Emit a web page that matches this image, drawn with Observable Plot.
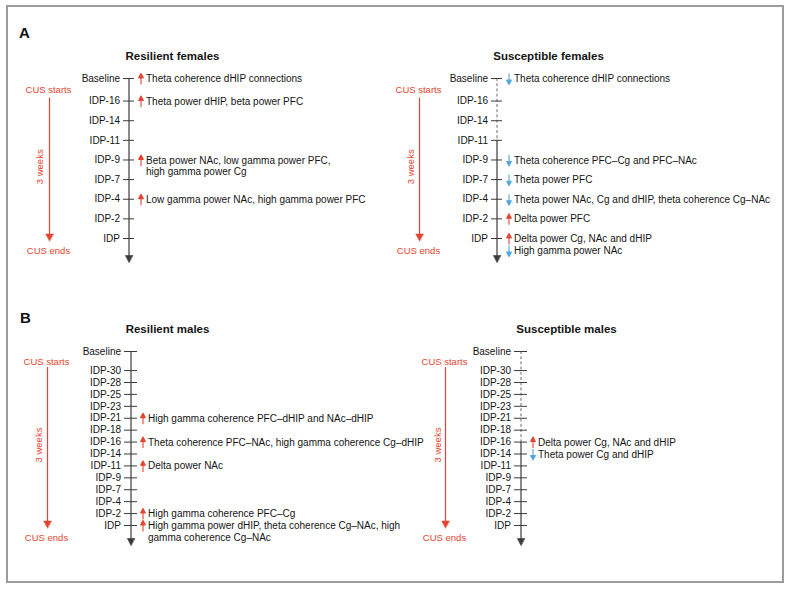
<!DOCTYPE html>
<html>
<head>
<meta charset="utf-8">
<script src="https://cdn.jsdelivr.net/npm/d3@7"></script>
<script src="https://cdn.jsdelivr.net/npm/@observablehq/plot@0.6"></script>
<style>
  html, body { margin: 0; padding: 0; background: #fff; }
  #fig { position: relative; width: 791px; height: 589px; overflow: hidden; font-family: "Liberation Sans", Arial, sans-serif; }
  #frame { position: absolute; left: 6px; top: 5px; width: 774px; height: 574px; border: 2px solid #9b9b9b; }
  .plabel { position: absolute; font-weight: bold; font-size: 15px; line-height: 15px; color: #111; }
  #fig svg { position: absolute; overflow: visible; }
</style>
</head>
<body>
<div id="fig">
  <div id="frame"></div>
  <div class="plabel" style="left:19px;top:25px">A</div>
  <div class="plabel" style="left:20px;top:310px">B</div>
</div>
<script>
// ---------------- data ----------------
const femaleTicks = ["Baseline", "IDP-16", "IDP-14", "IDP-11", "IDP-9", "IDP-7", "IDP-4", "IDP-2", "IDP"];
const maleTicks = ["Baseline", "IDP-30", "IDP-28", "IDP-25", "IDP-23", "IDP-21", "IDP-18", "IDP-16", "IDP-14", "IDP-11", "IDP-9", "IDP-7", "IDP-4", "IDP-2", "IDP"];

const panelTitles = ["Resilient females", "Susceptible females", "Resilient males", "Susceptible males"];

const resilientFemaleEvents = [
  {tick: "Baseline", dir: "up", text: "Theta coherence dHIP connections"},
  {tick: "IDP-16", dir: "up", text: "Theta power dHIP, beta power PFC"},
  {tick: "IDP-9", dir: "up", text: "Beta power NAc, low gamma power PFC,\nhigh gamma power Cg"},
  {tick: "IDP-4", dir: "up", text: "Low gamma power NAc, high gamma power PFC"}
];
const susceptibleFemaleEvents = [
  {tick: "Baseline", dir: "down", text: "Theta coherence dHIP connections"},
  {tick: "IDP-9", dir: "down", text: "Theta coherence PFC–Cg and PFC–NAc"},
  {tick: "IDP-7", dir: "down", text: "Theta power PFC"},
  {tick: "IDP-4", dir: "down", text: "Theta power NAc, Cg and dHIP, theta coherence Cg–NAc"},
  {tick: "IDP-2", dir: "up", text: "Delta power PFC"},
  {tick: "IDP", dir: "up", text: "Delta power Cg, NAc and dHIP"},
  {tick: "IDP", dir: "down", text: "High gamma power NAc"}
];
const resilientMaleEvents = [
  {tick: "IDP-21", dir: "up", text: "High gamma coherence PFC–dHIP and NAc–dHIP"},
  {tick: "IDP-16", dir: "up", text: "Theta coherence PFC–NAc, high gamma coherence Cg–dHIP"},
  {tick: "IDP-11", dir: "up", text: "Delta power NAc"},
  {tick: "IDP-2", dir: "up", text: "High gamma coherence PFC–Cg"},
  {tick: "IDP", dir: "up", text: "High gamma power dHIP, theta coherence Cg–NAc, high\ngamma coherence Cg–NAc"}
];
const susceptibleMaleEvents = [
  {tick: "IDP-16", dir: "up", text: "Delta power Cg, NAc and dHIP"},
  {tick: "IDP-14", dir: "down", text: "Theta power Cg and dHIP"}
];

// dashed (uncertain) stretch of the susceptible timelines ends at this tick
const susceptibleFemaleDashUntil = "IDP-11";
const susceptibleMaleDashUntil = "IDP-16";

const cusLabels = ["CUS starts", "CUS ends", "3 weeks"];

// ---------------- styles ----------------
const RED = "#e4442f";
const BLUE = "#4fa6df";
const DARK = "#3b3b3b";
const DASH = "#6a6a6a";
const INK = "#141414";

const eventArrow = {
  draw(ctx, l, r) {
    const hl = r * 1.9;
    ctx.moveTo(0, 0);
    ctx.lineTo(0, -l + hl);
    ctx.moveTo(0, -l);
    ctx.lineTo(r, -l + hl);
    ctx.lineTo(-r, -l + hl);
    ctx.closePath();
  }
};
const headOnly = {
  draw(ctx, l, r) {
    ctx.moveTo(0, -l);
    ctx.lineTo(r, 0);
    ctx.lineTo(-r, 0);
    ctx.closePath();
  }
};

function panel(cfg) {
  const {title, ticks, events, dashUntil, left, width, top, height,
         axisX, cusX, weeksX, titleX, yFirst, yLast, gap, tickHalf, tail} = cfg;
  const slotMap = new Map(ticks.map((t, i) => [t, i === 0 ? 0 : i + gap]));
  const slot = (t) => slotMap.get(t);
  const first = ticks[0], second = ticks[1], last = ticks[ticks.length - 1];

  // line index of each event within its tick (stacked events)
  const seen = new Map();
  const ev = events.map((e) => {
    const k = seen.get(e.tick) || 0;
    seen.set(e.tick, k + 1);
    return {...e, line: k};
  });
  const lines = [...new Set(ev.map((e) => e.line))];
  const LH = 12;

  const marks = [];
  // timeline
  if (dashUntil) {
    marks.push(Plot.ruleX([{a: first, b: dashUntil}], {x: axisX, y1: (d) => slot(d.a), y2: (d) => slot(d.b), stroke: DASH, strokeWidth: 1, strokeDasharray: "3,2.2"}));
    marks.push(Plot.ruleX([{a: dashUntil, b: last}], {x: axisX, y1: (d) => slot(d.a), y2: (d) => slot(d.b), stroke: DARK, strokeWidth: 1.2, insetBottom: -(tail - 6)}));
  } else {
    marks.push(Plot.ruleX([{a: first, b: last}], {x: axisX, y1: (d) => slot(d.a), y2: (d) => slot(d.b), stroke: DARK, strokeWidth: 1.2, insetBottom: -(tail - 6)}));
  }
  marks.push(Plot.vector([last], {x: axisX, y: slot, dy: tail, rotate: 180, anchor: "end", length: 7, r: 3.6, shape: headOnly, stroke: DARK, fill: DARK, strokeWidth: 0.6}));
  // ticks & labels
  marks.push(Plot.ruleY(ticks, {y: slot, x1: axisX - tickHalf, x2: axisX + tickHalf, stroke: DARK, strokeWidth: 1}));
  marks.push(Plot.text(ticks, {x: axisX, y: slot, text: (d) => d, textAnchor: "end", dx: -(tickHalf + 3.5), fill: INK, fontSize: 10}));
  // CUS annotation
  marks.push(Plot.text([cusLabels[0]], {x: cusX, y: () => (slot(first) + slot(second)) / 2, text: (d) => d, fill: RED, fontSize: 9.5, dy: 0.5}));
  marks.push(Plot.ruleX([{a: second, b: last}], {x: cusX + 1, y1: (d) => slot(d.a), y2: (d) => slot(d.b), stroke: RED, strokeWidth: 1.2, insetTop: -3, insetBottom: 4}));
  marks.push(Plot.vector([last], {x: cusX + 1, y: slot, dy: 2.5, rotate: 180, anchor: "end", length: 7, r: 3.8, shape: headOnly, stroke: RED, fill: RED, strokeWidth: 0.5}));
  marks.push(Plot.text([cusLabels[2]], {x: weeksX, y: () => (slot(second) + slot(last)) / 2, text: (d) => d, rotate: -90, fill: RED, fontSize: 9.5, dy: -3}));
  marks.push(Plot.text([cusLabels[1]], {x: cusX, y: () => slot(last), text: (d) => d, fill: RED, fontSize: 9.5, dy: 12}));
  // title
  marks.push(Plot.text([title], {x: titleX, y: () => slot(first), text: (d) => d, fontWeight: "bold", fontSize: 11.5, fill: INK, dy: -22}));
  // events
  for (const ln of lines) {
    const sub = ev.filter((e) => e.line === ln);
    marks.push(Plot.vector(sub, {
      x: axisX + 12, y: (d) => slot(d.tick), dy: 0.5 + ln * LH,
      rotate: (d) => d.dir === "up" ? 0 : 180, anchor: "middle",
      length: 11, r: 2.3, shape: eventArrow,
      stroke: (d) => d.dir === "up" ? RED : BLUE,
      fill: (d) => d.dir === "up" ? RED : BLUE,
      strokeWidth: 1.1, strokeLinecap: "butt"
    }));
    marks.push(Plot.text(sub, {
      x: axisX + 17, y: (d) => slot(d.tick), text: "text",
      textAnchor: "start", lineAnchor: "top", lineHeight: 1.2,
      dy: -5 + ln * LH, fill: INK, fontSize: 10
    }));
  }

  const svg = Plot.plot({
    width, height,
    marginTop: 0, marginRight: 0, marginBottom: 0, marginLeft: 0,
    x: {type: "linear", domain: [left, left + width], range: [0, width], axis: null},
    y: {type: "linear", domain: [0, slot(last)], range: [yFirst - top, yLast - top], axis: null},
    color: {type: "identity"},
    style: {fontFamily: "'Liberation Sans', Arial, sans-serif", fontSize: "10px", background: "transparent", overflow: "visible"},
    marks
  });
  svg.style.left = left + "px";
  svg.style.top = top + "px";
  document.getElementById("fig").appendChild(svg);
}

panel({title: panelTitles[0], ticks: femaleTicks, events: resilientFemaleEvents,
  left: 0, width: 390, top: 0, height: 290,
  axisX: 128.5, cusX: 48, weeksX: 39, titleX: 172, yFirst: 78, yLast: 238, gap: 0.15, tickHalf: 5.5, tail: 24});
panel({title: panelTitles[1], ticks: femaleTicks, events: susceptibleFemaleEvents, dashUntil: susceptibleFemaleDashUntil,
  left: 390, width: 401, top: 0, height: 290,
  axisX: 496.5, cusX: 418, weeksX: 410, titleX: 548, yFirst: 78, yLast: 238, gap: 0.15, tickHalf: 5.5, tail: 24});
panel({title: panelTitles[2], ticks: maleTicks, events: resilientMaleEvents,
  left: 0, width: 390, top: 290, height: 299,
  axisX: 130.5, cusX: 46, weeksX: 38, titleX: 167, yFirst: 351, yLast: 525, gap: 0.6, tickHalf: 6.5, tail: 20});
panel({title: panelTitles[3], ticks: maleTicks, events: susceptibleMaleEvents, dashUntil: susceptibleMaleDashUntil,
  left: 390, width: 401, top: 290, height: 299,
  axisX: 520.5, cusX: 444, weeksX: 437, titleX: 566, yFirst: 351, yLast: 525, gap: 0.6, tickHalf: 6.5, tail: 20});
</script>
</body>
</html>
